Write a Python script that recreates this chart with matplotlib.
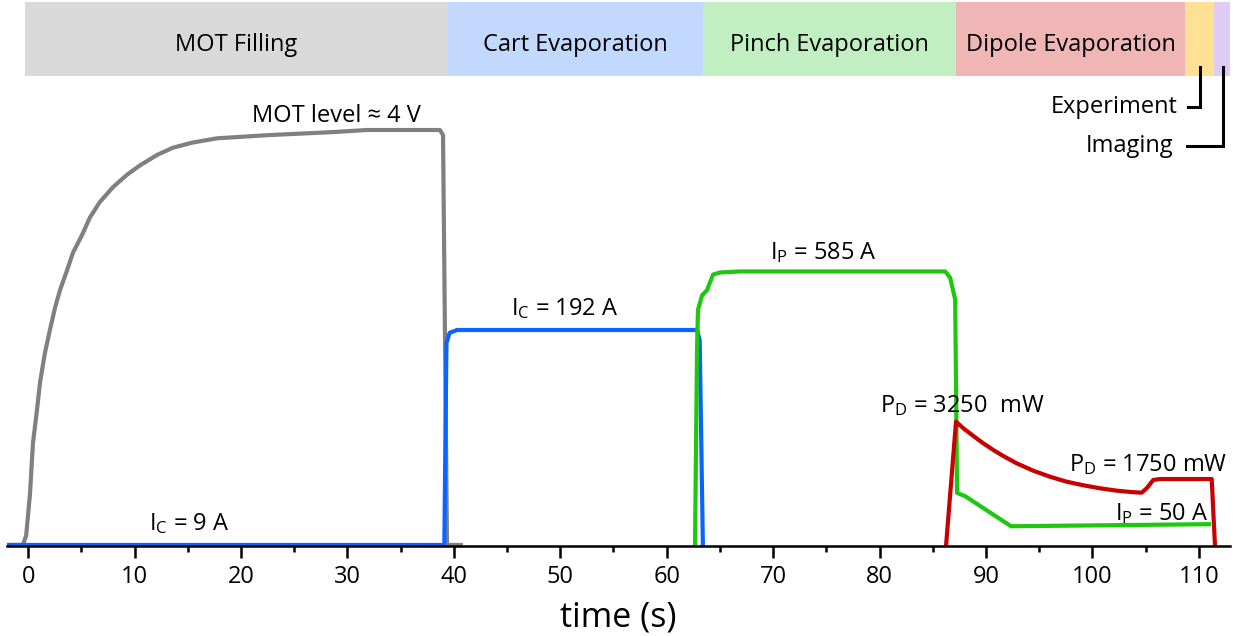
import matplotlib
matplotlib.use("Agg")
import matplotlib.pyplot as plt
from matplotlib.patches import Rectangle

plt.rcParams['font.family'] = ['Open Sans', 'DejaVu Sans']
plt.rcParams['mathtext.fontset'] = 'custom'
plt.rcParams['mathtext.rm'] = 'Open Sans'
plt.rcParams['mathtext.it'] = 'Open Sans:italic'

# sequence phases (start/end in s) shown as the coloured strip on top
phase_names = ['MOT Filling', 'Cart Evaporation', 'Pinch Evaporation',
               'Dipole Evaporation', '', '']
phase_edges = [-0.3, 39.45, 63.41, 87.19, 108.72, 111.45, 112.94]
phase_colors = ['#d9d9d9', '#c2d8fc', '#c2efc2', '#f0b5b5', '#ffe196', '#e0cbf5']

# MOT fluorescence (V)
mot_t = [-2.0, -0.5, -0.2, 0.16, 0.44, 0.82, 1.10, 1.57, 2.04, 2.51, 2.98,
         3.64, 4.20, 5.05, 5.80, 6.74, 7.96, 9.28, 10.50, 12.10, 13.60, 15.48,
         17.73, 22.43, 28.64, 31.83, 38.69, 38.98, 39.35, 39.45, 40.85]
mot_v = [0.01, 0.01, 0.10, 0.50, 0.99, 1.31, 1.57, 1.86, 2.08, 2.29, 2.46,
         2.65, 2.82, 2.99, 3.16, 3.31, 3.45, 3.57, 3.66, 3.76, 3.83, 3.88,
         3.92, 3.95, 3.98, 4.0, 4.0, 3.95, 0.03, 0.01, 0.01]

# cart coil current (scaled)
cart_t = [-2.0, 39.1, 39.3, 39.6, 40.3, 62.85, 63.1, 63.4]
cart_v = [0.01, 0.01, 1.95, 2.05, 2.077, 2.077, 1.98, 0.0]

# pinch coil current (scaled)
pinch_t = [62.66, 62.85, 62.94, 63.32, 63.79, 64.35, 65.01, 66.89, 86.17,
           86.64, 87.11, 87.29, 88.04, 92.36, 111.16]
pinch_v = [0.0, 1.9, 2.27, 2.41, 2.46, 2.61, 2.63, 2.64, 2.64,
           2.58, 2.37, 0.51, 0.48, 0.19, 0.21]

# dipole trap power (scaled)
dip_t = [86.25, 87.19, 87.88, 88.82, 89.76, 90.70, 91.64, 92.89, 94.45,
         96.03, 97.59, 99.15, 100.72, 102.29, 103.85, 104.64, 105.11, 105.73,
         106.36, 111.22, 111.53]
dip_v = [0.0, 1.195, 1.132, 1.058, 0.987, 0.923, 0.865, 0.795, 0.724,
         0.666, 0.618, 0.584, 0.555, 0.532, 0.517, 0.513, 0.555, 0.635,
         0.644, 0.644, 0.0]

fig = plt.figure(figsize=(12.37, 6.36), dpi=100)
ax = fig.add_axes([7 / 1237, 90 / 636, 1223 / 1237, 546 / 636])
ax.set_xlim(-2.0, 112.94)
ax.set_ylim(0, 5.25)

# phase strip
for i in range(len(phase_names)):
    x0, x1 = phase_edges[i], phase_edges[i + 1]
    ax.add_patch(Rectangle((x0, 4.519), x1 - x0, 0.712, color=phase_colors[i],
                           lw=0, clip_on=False))
    if phase_names[i]:
        ax.text((x0 + x1) / 2, 4.76, phase_names[i], ha='center', va='baseline',
                fontsize=17)

# brackets for the two short phases
ax.plot([110.12, 110.12, 109.0], [4.606, 4.221, 4.221], color='black', lw=2.2,
        solid_joinstyle='miter', clip_on=False)
ax.plot([112.28, 112.28, 108.9], [4.606, 3.846, 3.846], color='black', lw=2.2,
        solid_joinstyle='miter', clip_on=False)
ax.text(108.05, 4.221, 'Experiment', ha='right', va='center', fontsize=17)
ax.text(107.65, 3.846, 'Imaging', ha='right', va='center', fontsize=17)

# traces
kw = dict(lw=3.0, solid_joinstyle='round', solid_capstyle='butt', clip_on=False)
ax.plot(mot_t, mot_v, color='#808080', **kw)
ax.plot(cart_t, cart_v, color='#0a64ff', **kw)
ax.plot(pinch_t, pinch_v, color='#1ec80f', **kw)
ax.plot(dip_t, dip_v, color='#c80000', **kw)

# annotations
ax.text(28.92, 4.077, 'MOT level ≈ 4 V', ha='center', va='baseline', fontsize=17)
ax.text(15.15, 0.154, r'I$_\mathregular{C}$ = 9 A', ha='center', va='baseline', fontsize=17)
ax.text(50.44, 2.22, r'I$_\mathregular{C}$ = 192 A', ha='center', va='baseline', fontsize=17)
ax.text(74.73, 2.76, r'I$_\mathregular{P}$ = 585 A', ha='center', va='baseline', fontsize=17)
ax.text(87.75, 1.29, r'P$_\mathregular{D}$ = 3250  mW', ha='center', va='baseline', fontsize=17)
ax.text(105.24, 0.72, r'P$_\mathregular{D}$ = 1750 mW', ha='center', va='baseline', fontsize=17)
ax.text(106.5, 0.25, r'I$_\mathregular{P}$ = 50 A', ha='center', va='baseline', fontsize=17)

# axis styling: only the time axis is drawn
for s in ['left', 'right', 'top']:
    ax.spines[s].set_visible(False)
ax.spines['bottom'].set_linewidth(1.8)
ax.set_yticks([])
ax.set_xticks(range(0, 111, 10))
ax.set_xticks(range(5, 111, 10), minor=True)
ax.tick_params(axis='x', which='major', direction='out', length=8.6, width=1.8,
               labelsize=17, pad=5)
ax.tick_params(axis='x', which='minor', direction='out', length=4.3, width=1.8)
ax.patch.set_alpha(0)

fig.text(618.5 / 1237, 9 / 636, 'time (s)', ha='center', va='baseline', fontsize=24.5)

fig.savefig('out.png', dpi=100)
